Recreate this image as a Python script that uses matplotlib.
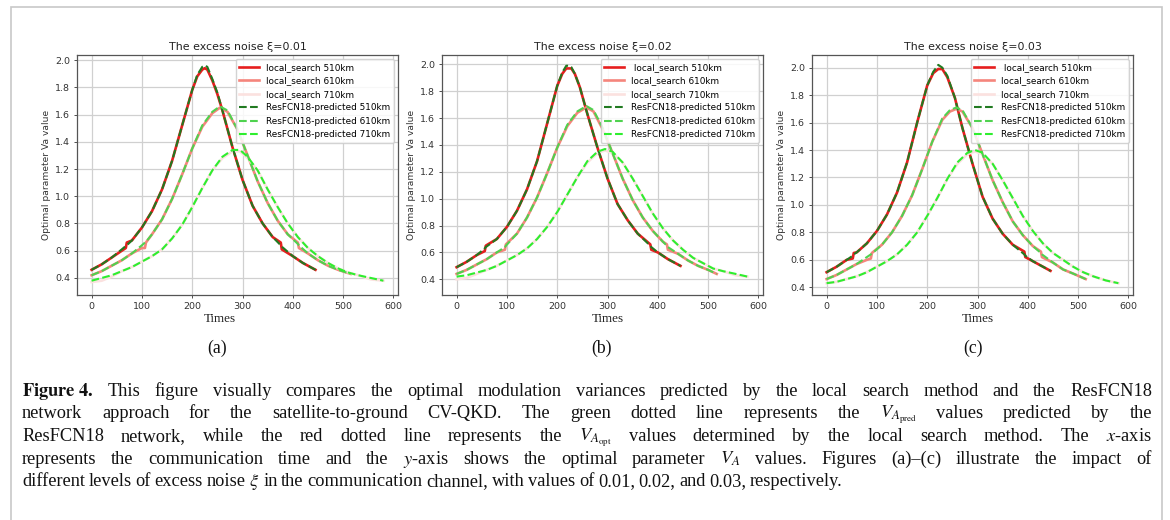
import re

import matplotlib

matplotlib.use("Agg")
import matplotlib.pyplot as plt  # noqa: E402
from matplotlib.patches import Rectangle  # noqa: E402

plt.rcParams["mathtext.fontset"] = "stix"

NOISE = ["0.01", "0.02", "0.03"]
SUBLABELS = ["(a)", "(b)", "(c)"]
DISTANCES = ["510km", "610km", "710km"]

# ---- panel (a), xi = 0.01 ----
a_t510 = [0, 20, 40, 60, 68, 70, 80, 100, 120, 140, 160, 180, 200, 210, 220, 225, 230, 240, 250, 260,
          280, 300, 320, 340, 360, 376, 378, 400, 420, 445]
a_local510 = [0.46, 0.50, 0.55, 0.60, 0.62, 0.66, 0.675, 0.77, 0.89, 1.05, 1.26, 1.52, 1.78, 1.88, 1.93, 1.94,
              1.93, 1.85, 1.75, 1.63, 1.36, 1.12, 0.93, 0.80, 0.70, 0.66, 0.61, 0.56, 0.51, 0.46]
a_pred510 = [0.46, 0.50, 0.55, 0.61, 0.635, 0.64, 0.675, 0.77, 0.89, 1.05, 1.26, 1.52, 1.78, 1.89, 1.95, 1.96,
             1.95, 1.86, 1.76, 1.63, 1.36, 1.12, 0.93, 0.80, 0.70, 0.64, 0.63, 0.56, 0.51, 0.46]
a_t610 = [0, 20, 40, 60, 80, 100, 106, 108, 120, 140, 160, 180, 200, 220, 240, 255, 270, 290, 310, 330,
          350, 370, 390, 410, 412, 430, 450, 470, 490, 515]
a_local610 = [0.42, 0.45, 0.49, 0.53, 0.58, 0.62, 0.62, 0.66, 0.72, 0.83, 0.98, 1.16, 1.35, 1.51, 1.61, 1.65,
              1.62, 1.49, 1.30, 1.11, 0.95, 0.82, 0.72, 0.66, 0.62, 0.58, 0.53, 0.49, 0.46, 0.43]
a_pred610 = [0.42, 0.45, 0.49, 0.53, 0.58, 0.64, 0.66, 0.665, 0.72, 0.83, 0.98, 1.16, 1.35, 1.52, 1.62, 1.66,
             1.63, 1.49, 1.30, 1.11, 0.95, 0.82, 0.72, 0.65, 0.64, 0.58, 0.53, 0.49, 0.46, 0.43]
a_t710 = [0, 20, 40, 60, 80, 100, 120, 140, 160, 180, 200, 220, 240, 260, 280, 295, 310, 330, 350, 370,
          390, 410, 430, 450, 470, 490, 510, 530, 555, 580]
a_local710 = [0.37, 0.38, 0.41, 0.45, 0.48, 0.52, 0.56, 0.61, 0.69, 0.79, 0.92, 1.06, 1.19, 1.28, 1.33, 1.33,
              1.28, 1.19, 1.05, 0.92, 0.80, 0.70, 0.62, 0.56, 0.51, 0.47, 0.44, 0.42, 0.39, 0.38]
a_pred710 = [0.38, 0.40, 0.42, 0.45, 0.48, 0.52, 0.56, 0.61, 0.69, 0.79, 0.92, 1.06, 1.19, 1.29, 1.34, 1.34,
             1.29, 1.19, 1.05, 0.92, 0.80, 0.70, 0.62, 0.56, 0.51, 0.47, 0.44, 0.42, 0.40, 0.38]

# ---- panel (b), xi = 0.02 ----
b_t510 = [0, 20, 40, 56, 58, 60, 80, 100, 120, 140, 160, 180, 200, 210, 218, 222, 228, 235, 245, 260,
          280, 300, 320, 340, 360, 385, 387, 400, 420, 445]
b_local510 = [0.49, 0.53, 0.58, 0.61, 0.65, 0.655, 0.70, 0.79, 0.91, 1.07, 1.28, 1.56, 1.84, 1.93, 1.97, 1.97,
              1.97, 1.93, 1.83, 1.63, 1.38, 1.15, 0.96, 0.84, 0.74, 0.66, 0.62, 0.60, 0.55, 0.50]
b_pred510 = [0.49, 0.53, 0.58, 0.63, 0.64, 0.645, 0.70, 0.79, 0.91, 1.07, 1.28, 1.56, 1.84, 1.94, 1.99, 1.99,
             1.98, 1.93, 1.83, 1.63, 1.38, 1.15, 0.96, 0.84, 0.74, 0.65, 0.64, 0.60, 0.55, 0.50]
b_t610 = [0, 20, 40, 60, 80, 96, 98, 120, 140, 160, 180, 200, 220, 240, 258, 272, 290, 310, 330, 350,
          370, 390, 410, 418, 420, 440, 460, 480, 500, 517]
b_local610 = [0.44, 0.47, 0.51, 0.55, 0.60, 0.62, 0.66, 0.74, 0.86, 1.01, 1.19, 1.38, 1.54, 1.64, 1.68, 1.65,
              1.52, 1.34, 1.15, 0.99, 0.86, 0.76, 0.68, 0.66, 0.62, 0.59, 0.54, 0.50, 0.47, 0.44]
b_pred610 = [0.44, 0.47, 0.51, 0.55, 0.60, 0.64, 0.65, 0.74, 0.86, 1.01, 1.19, 1.38, 1.55, 1.65, 1.69, 1.66,
             1.53, 1.34, 1.15, 0.99, 0.86, 0.76, 0.68, 0.65, 0.64, 0.59, 0.54, 0.50, 0.47, 0.44]
b_t710 = [0, 20, 40, 60, 80, 100, 120, 140, 160, 180, 200, 220, 240, 260, 280, 295, 310, 330, 350, 370,
          390, 410, 430, 450, 470, 490, 510, 530, 555, 578]
b_local710 = [0.40, 0.41, 0.44, 0.47, 0.50, 0.54, 0.58, 0.63, 0.70, 0.79, 0.90, 1.03, 1.16, 1.27, 1.34, 1.36,
              1.34, 1.27, 1.15, 1.02, 0.89, 0.78, 0.69, 0.62, 0.56, 0.52, 0.48, 0.46, 0.43, 0.42]
b_pred710 = [0.42, 0.43, 0.45, 0.47, 0.50, 0.54, 0.58, 0.63, 0.70, 0.79, 0.90, 1.03, 1.16, 1.28, 1.35, 1.37,
             1.35, 1.27, 1.15, 1.02, 0.89, 0.78, 0.69, 0.62, 0.56, 0.52, 0.48, 0.46, 0.44, 0.42]

# ---- panel (c), xi = 0.03 ----
c_t510 = [0, 20, 40, 52, 54, 60, 80, 100, 120, 140, 160, 180, 200, 212, 222, 230, 240, 255, 270, 290,
          310, 330, 350, 370, 393, 395, 410, 425, 445]
c_local510 = [0.51, 0.55, 0.60, 0.61, 0.65, 0.655, 0.72, 0.81, 0.93, 1.09, 1.31, 1.60, 1.87, 1.96, 1.99, 1.99,
              1.93, 1.78, 1.56, 1.30, 1.06, 0.90, 0.79, 0.71, 0.66, 0.62, 0.59, 0.56, 0.52]
c_pred510 = [0.51, 0.55, 0.60, 0.63, 0.64, 0.655, 0.72, 0.81, 0.93, 1.09, 1.31, 1.60, 1.87, 1.97, 2.02, 2.00,
             1.94, 1.78, 1.56, 1.30, 1.06, 0.90, 0.79, 0.71, 0.64, 0.63, 0.59, 0.56, 0.52]
c_t610 = [0, 20, 40, 60, 80, 88, 90, 110, 130, 150, 170, 190, 210, 230, 245, 258, 270, 290, 310, 330,
          350, 370, 390, 410, 426, 428, 450, 470, 490, 515]
c_local610 = [0.46, 0.49, 0.53, 0.57, 0.60, 0.61, 0.65, 0.71, 0.80, 0.92, 1.07, 1.26, 1.46, 1.62, 1.68, 1.70,
              1.68, 1.56, 1.37, 1.18, 1.02, 0.88, 0.78, 0.70, 0.66, 0.62, 0.58, 0.53, 0.50, 0.46]
c_pred610 = [0.46, 0.49, 0.53, 0.57, 0.62, 0.64, 0.645, 0.71, 0.80, 0.92, 1.07, 1.26, 1.46, 1.63, 1.69, 1.71,
             1.69, 1.56, 1.37, 1.18, 1.02, 0.88, 0.78, 0.70, 0.65, 0.64, 0.58, 0.53, 0.50, 0.46]
c_t710 = [0, 20, 40, 60, 80, 100, 120, 140, 160, 180, 200, 220, 240, 260, 280, 295, 310, 330, 350, 370,
          390, 410, 430, 450, 470, 490, 510, 530, 555, 580]
c_local710 = [0.43, 0.44, 0.46, 0.48, 0.51, 0.55, 0.59, 0.64, 0.71, 0.80, 0.92, 1.05, 1.19, 1.30, 1.37, 1.39,
              1.37, 1.30, 1.18, 1.05, 0.92, 0.81, 0.72, 0.65, 0.60, 0.55, 0.51, 0.48, 0.45, 0.43]
c_pred710 = [0.43, 0.44, 0.46, 0.48, 0.51, 0.55, 0.59, 0.64, 0.71, 0.80, 0.92, 1.05, 1.19, 1.31, 1.38, 1.40,
             1.38, 1.30, 1.18, 1.05, 0.92, 0.81, 0.72, 0.65, 0.60, 0.55, 0.51, 0.48, 0.45, 0.43]

PANELS = [
    [(a_t510, a_local510, a_pred510), (a_t610, a_local610, a_pred610), (a_t710, a_local710, a_pred710)],
    [(b_t510, b_local510, b_pred510), (b_t610, b_local610, b_pred610), (b_t710, b_local710, b_pred710)],
    [(c_t510, c_local510, c_pred510), (c_t610, c_local610, c_pred610), (c_t710, c_local710, c_pred710)],
]

CAPTION = [
    r"$\mathbf{Figure\ 4.}$ This figure visually compares the optimal modulation variances predicted by the "
    r"local search method and the ResFCN18",
    r"network approach for the satellite-to-ground CV-QKD. The green dotted line represents the "
    r"$V_{A_{\rm pred}}$ values predicted by the",
    r"ResFCN18 network, while the red dotted line represents the $V_{A_{\rm opt}}$ values determined by "
    r"the local search method. The $x$-axis",
    r"represents the communication time and the $y$-axis shows the optimal parameter $V_A$ values. "
    r"Figures (a)–(c) illustrate the impact of",
    r"different levels of excess noise $\xi$  in the communication channel, with values of 0.01, 0.02, "
    r"and 0.03, respectively.",
]

LOCAL_COLORS = ["#e61e1e", "#f5857c", "#fbe1df"]
PRED_COLORS = ["#217a21", "#4fd24f", "#2eee2e"]

W, H = 1170, 520
fig = plt.figure(figsize=(W / 100, H / 100), dpi=100)

ax_left = [77, 442, 812]
ylims = [(0.275, 2.037), (0.283, 2.07), (0.344, 2.092)]
xlabel_x = [0.445, 0.516, 0.515]
sub_x = [217, 602, 973]

for i, panel in enumerate(PANELS):
    ax = fig.add_axes([ax_left[i] / W, 1 - 295 / H, 321 / W, 240 / H])
    for j, (t, local, _) in enumerate(panel):
        lead = " " if (i > 0 and j == 0) else ""
        ax.plot(t, local, color=LOCAL_COLORS[j], lw=1.9, label=f"{lead}local_search {DISTANCES[j]}")
    for j, (t, _, pred) in enumerate(panel):
        ax.plot(t, pred, "--", color=PRED_COLORS[j], lw=1.5, label=f"ResFCN18-predicted {DISTANCES[j]}")
    ax.set_xlim(-29, 609)
    ax.set_ylim(*ylims[i])
    ax.set_xticks([0, 100, 200, 300, 400, 500, 600])
    ax.set_yticks([0.4, 0.6, 0.8, 1.0, 1.2, 1.4, 1.6, 1.8, 2.0])
    ax.grid(True, color="#d0d0d0", lw=0.9)
    ax.set_axisbelow(True)
    ax.tick_params(labelsize=6.8, length=2.5, width=0.6, colors="#333333", pad=2.5)
    for sp in ax.spines.values():
        sp.set_color("#555555")
        sp.set_linewidth(0.9)
    ax.set_title(f"The excess noise ξ={NOISE[i]}", fontsize=7.9, pad=3.5, color="#222222")
    ax.set_ylabel("Optimal parameter Va value", fontsize=6.6, color="#333333", labelpad=3)
    ax.set_xlabel("Times", fontsize=9.4, family="Liberation Serif", color="#222222")
    ax.xaxis.set_label_coords(xlabel_x[i], -0.075)
    ax.legend(loc="upper right", fontsize=6.4, framealpha=0.85, handlelength=2.2,
              borderaxespad=0.5, labelspacing=0.5)
    fig.text(sub_x[i] / W, 1 - 348 / H, SUBLABELS[i], fontsize=12.8, family="Liberation Serif",
             ha="center", va="center", color="#111111")

# caption: words placed one by one, lines justified except the last one
renderer = fig.canvas.get_renderer()
left_px, right_px = 22, 1152
baselines = [396, 418, 441, 464, 486]
for k, (yb, line) in enumerate(zip(baselines, CAPTION)):
    words = re.findall(r"(?:\$[^$]*\$|[^\s$])+", line)
    texts = [fig.text(0, 1 - yb / H, w, fontsize=13.2, family="Liberation Serif",
                      ha="left", va="baseline", color="#111111") for w in words]
    widths = [t.get_window_extent(renderer).width for t in texts]
    if k < len(CAPTION) - 1:
        gap = (right_px - left_px - sum(widths)) / (len(words) - 1)
    else:
        gap = 3.7
    x = left_px
    for t, w in zip(texts, widths):
        t.set_x(x / W)
        x += w + gap

fig.add_artist(Rectangle((11 / W, -0.05), (1162 - 11) / W, 1.05 - 7 / H, transform=fig.transFigure,
                         fill=False, ec="#c8c8c8", lw=1.2))

fig.savefig("out.png", dpi=100)
